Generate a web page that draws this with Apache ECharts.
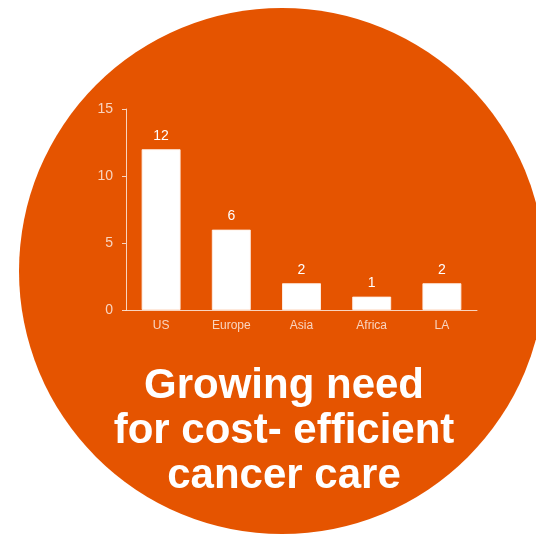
<!DOCTYPE html>
<html>
<head>
<meta charset="utf-8">
<script src="https://cdn.jsdelivr.net/npm/echarts@6/dist/echarts.min.js"></script>
<style>
  html, body { margin: 0; padding: 0; background: #ffffff; }
  #chart { width: 536px; height: 536px; }
</style>
</head>
<body>
<div id="chart"></div>
<script>
// Regions and number of cases per region
const regions = ['US', 'Europe', 'Asia', 'Africa', 'LA'];
const counts = [12, 6, 2, 1, 2];
const yTicks = { min: 0, max: 15, interval: 5 };
const headline = ['Growing need', 'for cost- efficient', 'cancer care'];

const ORANGE = '#e55400';
const SOFT = 'rgba(255,255,255,0.75)';
const FONT = '"Liberation Sans", Arial, Helvetica, sans-serif';

const chart = echarts.init(document.getElementById('chart'), null, { renderer: 'canvas' });

chart.setOption({
  backgroundColor: '#ffffff',
  animation: false,
  graphic: [
    {
      type: 'circle',
      z: -10,
      silent: true,
      shape: { cx: 282, cy: 271, r: 263 },
      style: { fill: ORANGE }
    },
    {
      type: 'text',
      z: 10,
      silent: true,
      x: 284,
      y: 364,
      style: {
        text: headline.join('\n'),
        fill: '#ffffff',
        font: 'bold 42px ' + FONT,
        align: 'center',
        verticalAlign: 'top',
        lineHeight: 45
      }
    }
  ],
  grid: { left: 126, right: 59, top: 109, bottom: 226, containLabel: false },
  xAxis: {
    type: 'category',
    data: regions,
    axisLine: { show: true, lineStyle: { color: SOFT, width: 1 } },
    axisTick: { show: false },
    axisLabel: { color: SOFT, fontSize: 12, fontFamily: FONT, margin: 10 },
    splitLine: { show: false }
  },
  yAxis: {
    type: 'value',
    min: yTicks.min,
    max: yTicks.max,
    interval: yTicks.interval,
    axisLine: { show: true, lineStyle: { color: SOFT, width: 1 } },
    axisTick: { show: true, length: 4, lineStyle: { color: SOFT } },
    axisLabel: { color: SOFT, fontSize: 14, fontFamily: FONT, margin: 13 },
    splitLine: { show: false }
  },
  series: [
    {
      type: 'bar',
      data: counts,
      barWidth: 39,
      itemStyle: { color: '#ffffff', borderColor: 'rgba(255,240,230,0.9)', borderWidth: 1 },
      label: {
        show: true,
        position: 'top',
        distance: 6,
        color: '#ffffff',
        fontSize: 14,
        fontFamily: FONT
      }
    }
  ]
});
</script>
</body>
</html>
